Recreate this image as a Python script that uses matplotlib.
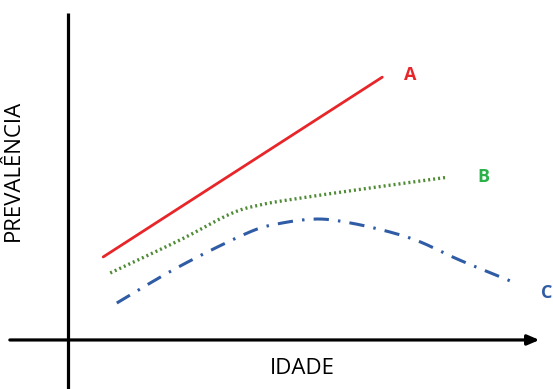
import matplotlib.pyplot as plt
import numpy as np

# curves (age, prevalence) in arbitrary 0-100 units
a_age = [7.5, 67.0]
a_prev = [25.4, 80.4]

b_age = [9.0, 23.9, 34.5, 40.9, 49.5, 64.4, 81.0]
b_prev = [20.5, 30.6, 38.5, 41.3, 43.4, 46.5, 49.8]

c_age = [10.4, 23.5, 38.2, 45.0, 53.1, 60.2, 68.7, 75.1, 83.4, 94.9]
c_prev = [11.3, 22.3, 32.7, 35.6, 37.0, 35.8, 33.0, 30.0, 24.5, 17.7]

labels = ['A', 'B', 'C']
label_pos = [(73.0, 81.0), (88.5, 50.0), (102.0, 14.5)]

red = '#e8262a'
green_line = '#4f8a35'
green_text = '#2bb04a'
blue = '#2f5ca5'


def smooth(x, y, n=200):
  # simple Catmull-Rom through the read points
  x = np.asarray(x, float)
  y = np.asarray(y, float)
  pts = np.column_stack([x, y])
  pts = np.vstack([pts[0], pts, pts[-1]])
  out = []
  for i in range(1, len(pts) - 2):
    p0, p1, p2, p3 = pts[i - 1], pts[i], pts[i + 1], pts[i + 2]
    for t in np.linspace(0, 1, n // (len(x) - 1), endpoint=False):
      t2, t3 = t * t, t * t * t
      out.append(0.5 * ((2 * p1) + (-p0 + p2) * t +
                        (2 * p0 - 5 * p1 + 4 * p2 - p3) * t2 +
                        (-p0 + 3 * p1 - 3 * p2 + p3) * t3))
  out.append(pts[-2])
  out = np.array(out)
  return out[:, 0], out[:, 1]


fig = plt.figure(figsize=(5.53, 3.89), dpi=100)
ax = fig.add_axes([0, 0, 1, 1])
ax.set_xlim(-14.5, 103.4)
ax.set_ylim(-15.0, 104.0)
ax.axis('off')

# hand drawn style axes
ax.plot([0, 0], [-15.0, 100.0], color='black', lw=2.3, solid_capstyle='butt')
ax.annotate('', xy=(100.5, 0), xytext=(-12.4, 0),
            arrowprops=dict(arrowstyle='-|>,head_length=0.7,head_width=0.3',
                            color='black', lw=2.3, shrinkA=0, shrinkB=0))

ax.plot(a_age, a_prev, color=red, lw=2.0, solid_capstyle='round')

bx, by = smooth(b_age, b_prev)
ax.plot(bx, by, color=green_line, lw=2.4, linestyle=(0, (0.6, 0.9)))

cx, cy = smooth(c_age, c_prev)
ax.plot(cx, cy, color=blue, lw=2.2, linestyle=(0, (5, 3, 0.8, 3)))

colors = [red, green_text, blue]
for lab, (x, y), col in zip(labels, label_pos, colors):
  ax.text(x, y, lab, color=col, fontsize=13, fontweight='bold',
          family='Open Sans', ha='center', va='center')

ax.text(-11.7, 52, 'PREVALÊNCIA', rotation=90, fontsize=16, family='Open Sans',
        ha='center', va='center')
ax.text(50.0, -8.6, 'IDADE', fontsize=16, family='Open Sans',
        ha='center', va='center')

fig.savefig('out.png', dpi=100)
